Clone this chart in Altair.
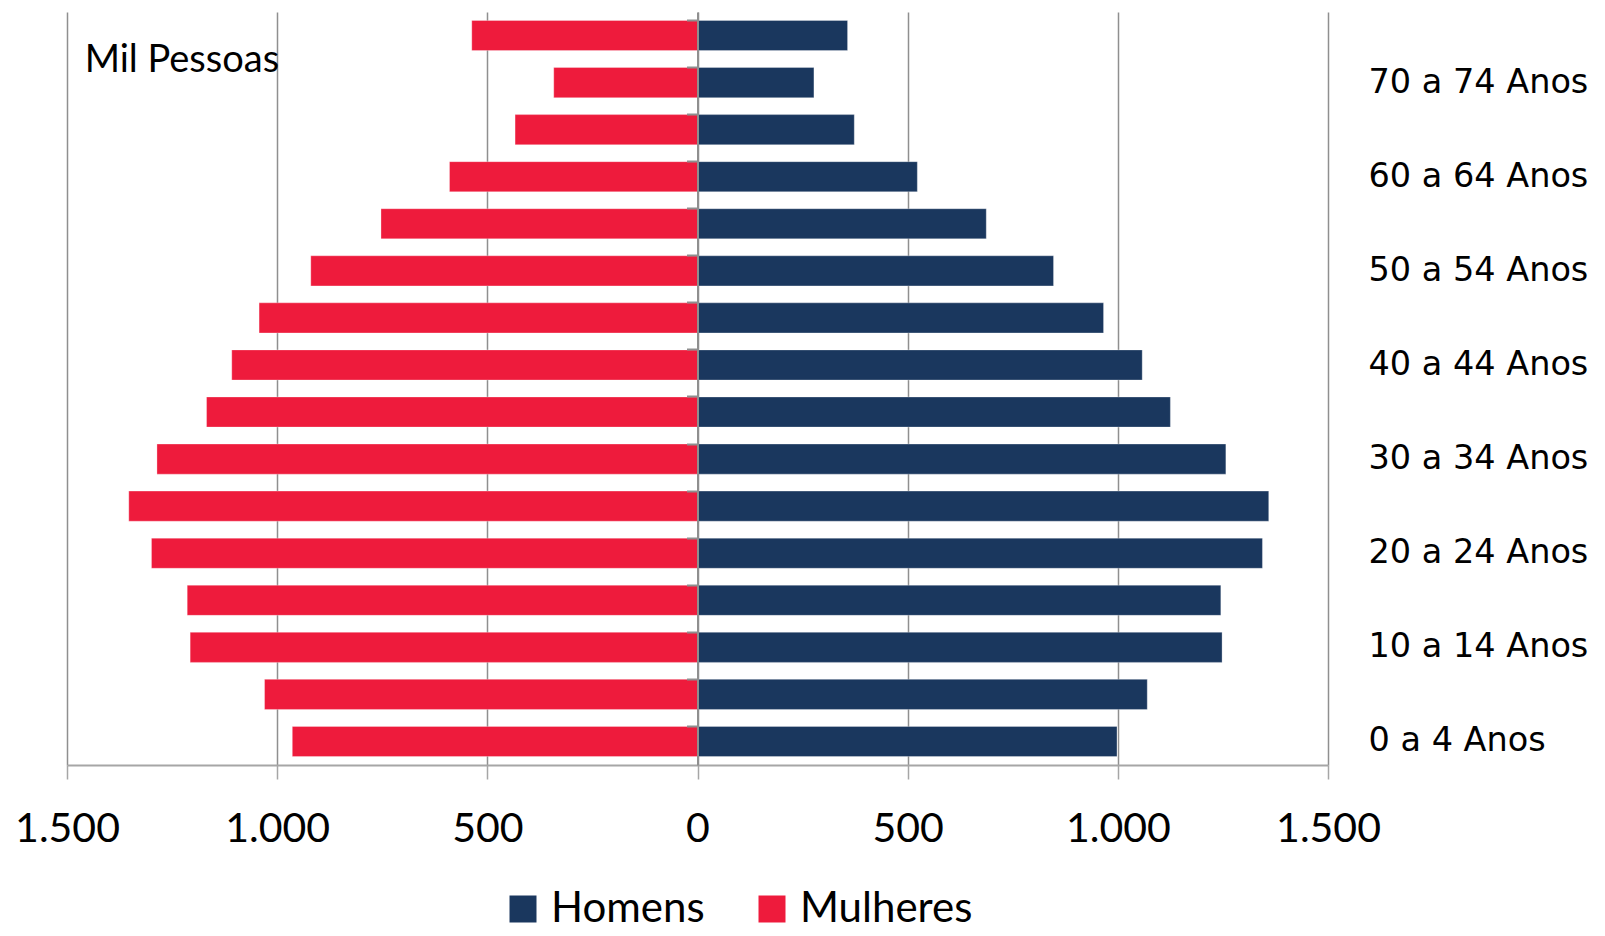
import altair as alt
import pandas as pd

# Faixas etárias (de baixo para cima) e população em mil pessoas
faixas = [
    "0 a 4 Anos", "5 a 9 Anos", "10 a 14 Anos", "15 a 19 Anos",
    "20 a 24 Anos", "25 a 29 Anos", "30 a 34 Anos", "35 a 39 Anos",
    "40 a 44 Anos", "45 a 49 Anos", "50 a 54 Anos", "55 a 59 Anos",
    "60 a 64 Anos", "65 a 69 Anos", "70 a 74 Anos", "75 Anos ou mais",
]
homens = [998, 1070, 1248, 1245, 1344, 1359, 1257, 1125,
          1058, 966, 847, 687, 523, 373, 277, 357]
mulheres = [964, 1030, 1207, 1214, 1299, 1353, 1286, 1168,
            1108, 1043, 920, 753, 590, 434, 342, 537]

rotulos = faixas[0:15:2]          # faixas com rótulo no eixo
marcas_x = [-1500, -1000, -500, 0, 500, 1000, 1500]
sexos = ["Homens", "Mulheres"]
cores = ["#1A375E", "#EE1B3C"]

CINZA = "#8f8f8f"
ordem = faixas[::-1]              # mais velhos no topo

df = pd.DataFrame(
    [{"faixa": f, "sexo": "Homens", "valor": h} for f, h in zip(faixas, homens)]
    + [{"faixa": f, "sexo": "Mulheres", "valor": -m} for f, m in zip(faixas, mulheres)]
)

x_enc = alt.X(
    "valor:Q",
    title=None,
    scale=alt.Scale(domain=[-1500, 1500], nice=False, zero=False),
    axis=alt.Axis(
        values=marcas_x,
        labelExpr="replace(format(abs(datum.value), ','), ',', '.')",
        grid=True, gridColor=CINZA, gridWidth=1.5,
        domainColor="#a6a6a6", domainWidth=2,
        tickColor="#a6a6a6", tickWidth=1.5, tickSize=14,
        labelFont="Lato", labelFontSize=41, labelColor="#000000",
        labelBaseline="middle", labelPadding=50, labelFlush=False,
        zindex=0,
    ),
)

barras = alt.Chart(df).mark_bar(stroke="#ffffff", strokeWidth=0.6, strokeOpacity=0.5).encode(
    x=x_enc,
    y=alt.Y(
        "faixa:N",
        sort=ordem,
        title=None,
        scale=alt.Scale(paddingInner=0.36, paddingOuter=0.18),
        axis=alt.Axis(
            orient="right", values=rotulos, ticks=False, domain=False,
            labelFont="DejaVu Sans", labelFontSize=33.5, labelColor="#000000",
            labelPadding=40, labelAlign="left", labelLimit=0, grid=False,
        ),
    ),
    color=alt.Color(
        "sexo:N",
        scale=alt.Scale(domain=sexos, range=cores),
        legend=alt.Legend(
            title=None, orient="none", direction="horizontal",
            legendX=435, legendY=876, padding=0,
            symbolType="square", symbolSize=729, symbolStrokeWidth=0,
            labelFont="Lato", labelFontSize=42, labelColor="#000000",
            labelOffset=7, labelLimit=0, columnPadding=46,
        ),
    ),
)

# Eixo das categorias sobre o zero, com marcas entre as faixas
eixo_zero = alt.Chart(df).mark_bar(opacity=0).encode(
    x=alt.X("valor:Q", title=None),
    y=alt.Y(
        "faixa:N",
        sort=ordem,
        title=None,
        axis=alt.Axis(
            orient="left", offset=-630.5, labels=False, grid=False,
            domainColor=CINZA, domainWidth=2,
            tickColor=CINZA, tickWidth=2, tickSize=11, bandPosition=0,
            zindex=1,
        ),
    ),
)

unidade = alt.Chart(
    pd.DataFrame({"valor": [-1458], "faixa": [faixas[-1]], "texto": ["Mil Pessoas"]})
).mark_text(
    align="left", baseline="alphabetic", dy=36,
    font="Lato", fontSize=38, color="#000000",
).encode(
    x=alt.X("valor:Q", title=None),
    y=alt.Y("faixa:N", sort=ordem, title=None, axis=None),
    text="texto:N",
)

chart = (
    alt.layer(barras, eixo_zero, unidade)
    .resolve_axis(y="independent")
    .properties(
        width=1261, height=753,
        autosize=alt.AutoSizeParams(type="none"),
        padding={"left": 67, "top": 12, "right": 277, "bottom": 171},
        background="#ffffff",
    )
    .configure_view(stroke=None)
)

chart.save("out.html", embed_options={"renderer": "svg", "actions": False})
